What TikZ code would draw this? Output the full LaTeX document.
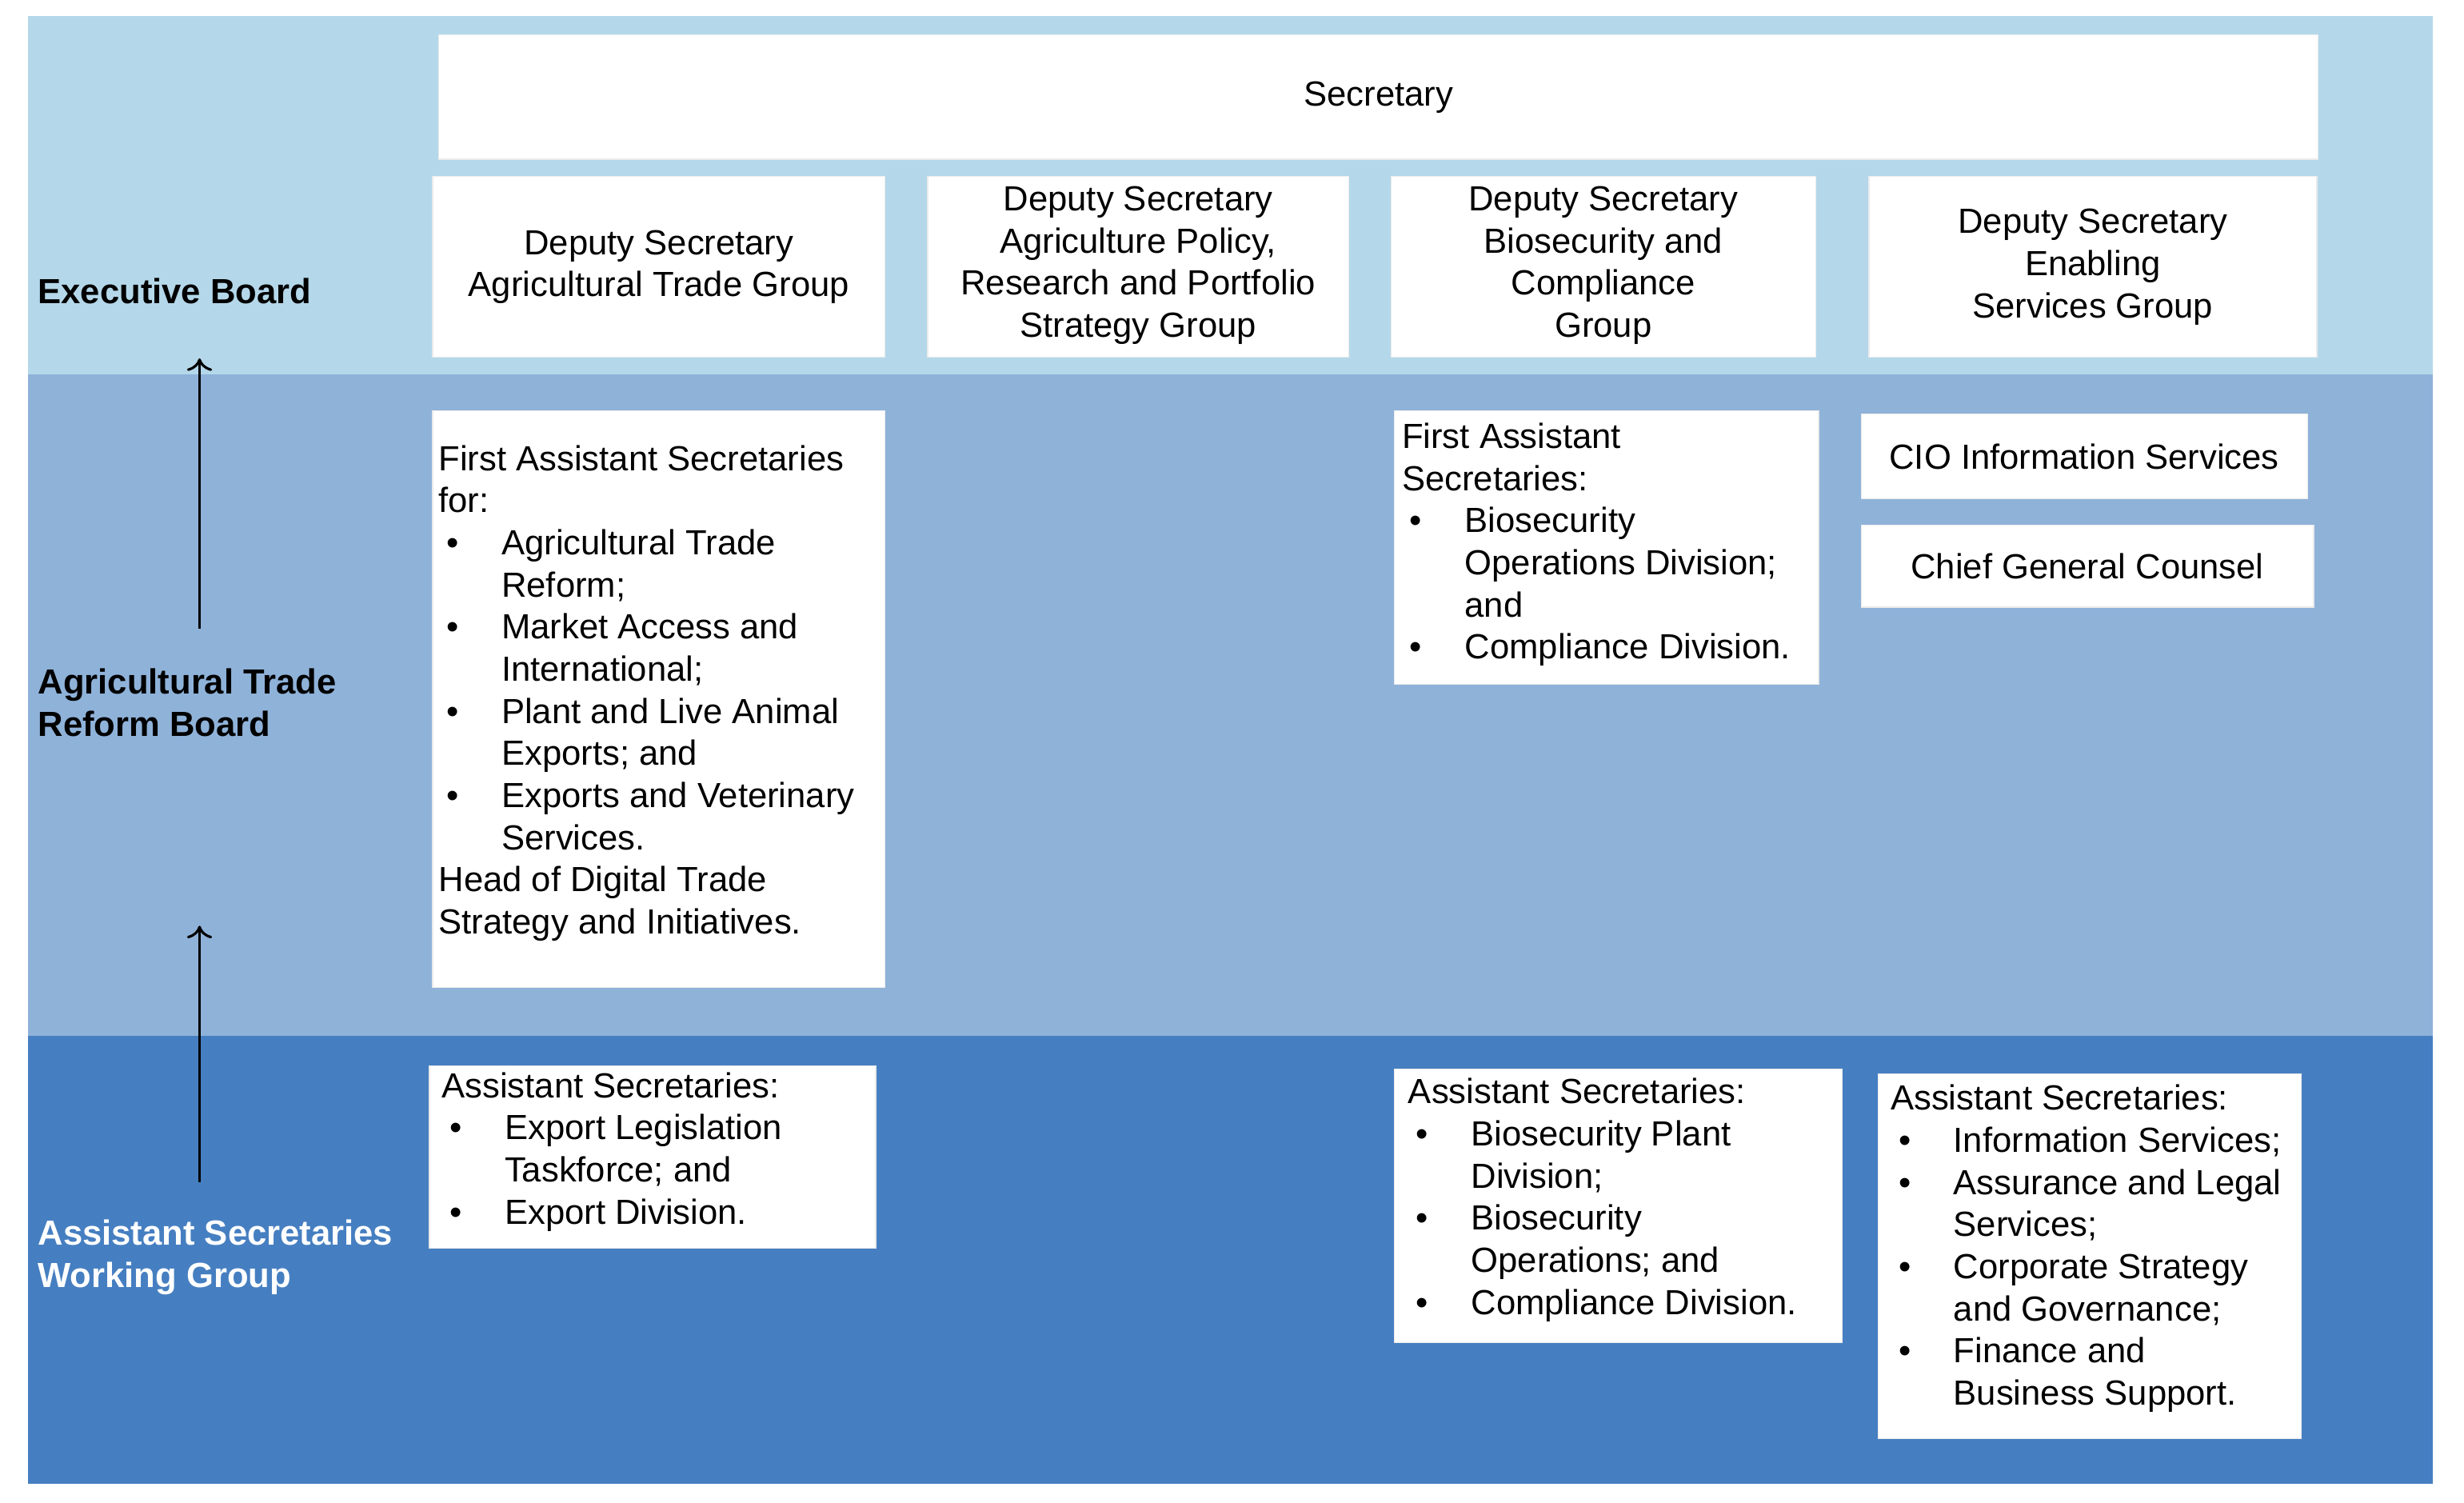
\documentclass[tikz,border=0pt]{standalone}
\usepackage{fontspec}
\setmainfont{Liberation Sans}
\usetikzlibrary{arrows.meta}
\newcommand{\bl}[1]{\makebox[40pt][l]{\hspace{5pt}\textbullet}#1}
\newcommand{\ind}{\hspace*{40pt}}
\definecolor{bandA}{HTML}{B4D8EA}
\definecolor{bandB}{HTML}{8FB2D9}
\definecolor{bandC}{HTML}{467FC1}
\begin{document}
\begin{tikzpicture}[x=1pt,y=1pt,
  box/.style={fill=white,draw=white!92!black,line width=0.6pt,inner sep=0,anchor=north west},
  txt/.style={font=\fontsize{22.2}{26.8}\selectfont,inner sep=0,align=center},
  ltxt/.style={font=\fontsize{22.2}{26.8}\selectfont,inner sep=0,align=left,anchor=north west},
  lab/.style={font=\fontsize{22.2}{26.8}\selectfont\bfseries,inner sep=0,align=left,anchor=west},
  arr/.style={-{To[length=8pt,width=16pt]},line width=1.6pt}]
\useasboundingbox (0,0) rectangle (1568,-956);
\fill[bandA] (18,-10) rectangle (1548,-238);
\fill[bandB] (18,-238) rectangle (1548,-659);
\fill[bandC] (18,-659) rectangle (1548,-944);
% boxes
\node[box,minimum width=1196pt,minimum height=79pt] (sec) at (279,-22) {};
\node[txt] at (sec.center) {Secretary};
\node[box,minimum width=288pt,minimum height=115pt] (d1) at (275,-112) {};
\node[txt] at (d1.center) {Deputy Secretary\\Agricultural Trade Group};
\node[box,minimum width=268pt,minimum height=115pt] (d2) at (590,-112) {};
\node[txt] at ([yshift=1pt]d2.center) {Deputy Secretary\\Agriculture Policy,\\Research and Portfolio\\Strategy Group};
\node[box,minimum width=270pt,minimum height=115pt] (d3) at (885,-112) {};
\node[txt] at ([yshift=1pt]d3.center) {Deputy Secretary\\Biosecurity and\\Compliance\\Group};
\node[box,minimum width=285pt,minimum height=115pt] (d4) at (1189,-112) {};
\node[txt] at (d4.center) {Deputy Secretary\\Enabling\\Services Group};
% FAS
\node[box,minimum width=288pt,minimum height=367pt] (f1) at (275,-261) {};
\node[ltxt] (f1t) at (279,-283) {First Assistant Secretaries\\for:\\\bl{Agricultural Trade}\\\ind Reform;\\\bl{Market Access and}\\\ind International;\\\bl{Plant and Live Animal}\\\ind Exports; and\\\bl{Exports and Veterinary}\\\ind Services.\\Head of Digital Trade\\Strategy and Initiatives.};
\node[box,minimum width=270pt,minimum height=174pt] (f2) at (887,-261) {};
\node[ltxt] (f2t) at (892,-269) {First Assistant\\Secretaries:\\\bl{Biosecurity}\\\ind Operations Division;\\\ind and\\\bl{Compliance Division.}};
\node[box,minimum width=284pt,minimum height=54pt] (cio) at (1184,-263) {};
\node[txt] at (cio.center) {CIO Information Services};
\node[box,minimum width=288pt,minimum height=52pt] (cgc) at (1184,-334) {};
\node[txt] at (cgc.center) {Chief General Counsel};
% AS
\node[box,minimum width=284pt,minimum height=116pt] (a1) at (273,-678) {};
\node[ltxt] (a1t) at (281,-682) {Assistant Secretaries:\\\bl{Export Legislation}\\\ind Taskforce; and\\\bl{Export Division.}};
\node[box,minimum width=285pt,minimum height=174pt] (a2) at (887,-680) {};
\node[ltxt] (a2t) at (896,-686) {Assistant Secretaries:\\\bl{Biosecurity Plant}\\\ind Division;\\\bl{Biosecurity}\\\ind Operations; and\\\bl{Compliance Division.}};
\node[box,minimum width=269pt,minimum height=232pt] (a3) at (1195,-683) {};
\node[ltxt] (a3t) at (1203,-690) {Assistant Secretaries:\\\bl{Information Services;}\\\bl{Assurance and Legal}\\\ind Services;\\\bl{Corporate Strategy}\\\ind and Governance;\\\bl{Finance and}\\\ind Business Support.};
% labels
\node[lab] (l1) at (24,-185) {Executive Board};
\node[lab] (l2) at (24,-447) {Agricultural Trade\\Reform Board};
\node[lab,text=white] (l3) at (24,-800) {Assistant Secretaries\\Working Group};
% arrows
\coordinate (a1s) at (127,-400); \coordinate (a1e) at (127,-228);
\coordinate (a2s) at (127,-752); \coordinate (a2e) at (127,-589);
\draw[arr] (a1s) -- (a1e);
\draw[arr] (a2s) -- (a2e);
\end{tikzpicture}
\end{document}
